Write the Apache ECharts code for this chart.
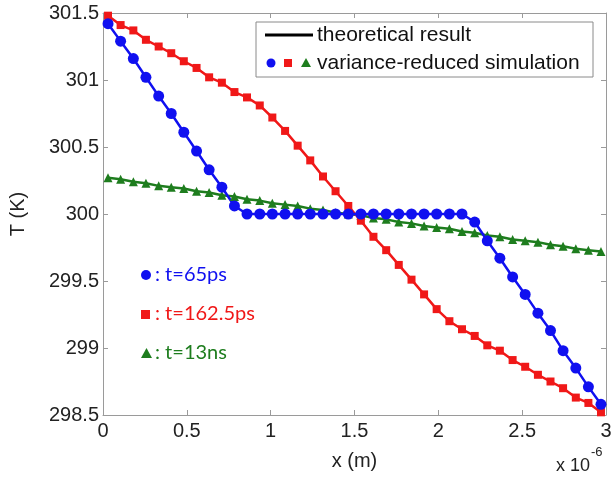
<!DOCTYPE html>
<html>
<head>
    <meta charset="utf-8">
    <title>T profile</title>
    <script src="https://cdn.jsdelivr.net/npm/echarts@6/dist/echarts.min.js"></script>
    <style>
        html, body { margin: 0; padding: 0; background: #fff; }
    </style>
</head>
<body>
    <div id="main" style="width: 615px;height:478px;"></div>
    <script type="text/javascript">
        // x positions (units of 1e-6 m)
        var xPos = [0.030, 0.105, 0.181, 0.256, 0.332, 0.407, 0.482, 0.558, 0.633, 0.709,
                    0.784, 0.859, 0.935, 1.010, 1.086, 1.161, 1.236, 1.312, 1.387, 1.463,
                    1.538, 1.613, 1.689, 1.764, 1.840, 1.915, 1.990, 2.066, 2.141, 2.217,
                    2.292, 2.367, 2.443, 2.518, 2.594, 2.669, 2.744, 2.820, 2.895, 2.970];

        // t = 65ps
        var t65ps = [301.42, 301.29, 301.16, 301.02, 300.88, 300.75, 300.61, 300.47, 300.33, 300.20,
                     300.06, 300.00, 300.00, 300.00, 300.00, 300.00, 300.00, 300.00, 300.00, 300.00,
                     300.00, 300.00, 300.00, 300.00, 300.00, 300.00, 300.00, 300.00, 300.00, 299.94,
                     299.80, 299.67, 299.53, 299.40, 299.26, 299.13, 298.98, 298.85, 298.71, 298.58];

        // t = 162.5ps
        var t162ps = [301.48, 301.41, 301.37, 301.30, 301.25, 301.20, 301.14, 301.09, 301.02, 300.98,
                      300.91, 300.87, 300.81, 300.72, 300.62, 300.51, 300.40, 300.28, 300.17, 300.06,
                      299.95, 299.83, 299.73, 299.62, 299.51, 299.40, 299.29, 299.20, 299.14, 299.09,
                      299.02, 298.98, 298.91, 298.86, 298.80, 298.75, 298.70, 298.63, 298.59, 298.52];

        // t = 13ns
        var t13ns = [300.27, 300.26, 300.24, 300.23, 300.21, 300.20, 300.19, 300.17, 300.16, 300.14,
                     300.13, 300.11, 300.10, 300.08, 300.07, 300.06, 300.04, 300.03, 300.01, 300.00,
                     299.99, 299.97, 299.96, 299.94, 299.93, 299.91, 299.90, 299.89, 299.87, 299.86,
                     299.84, 299.83, 299.81, 299.80, 299.79, 299.77, 299.76, 299.74, 299.73, 299.72];

        var xTicks = [0, 0.5, 1, 1.5, 2, 2.5, 3];
        var yTicks = [298.5, 299, 299.5, 300, 300.5, 301, 301.5];

        var BLUE = '#1010f0', RED = '#f01818', GREEN = '#1e7d1e';
        var AX = '#9a9a9a';
        var FONT = 'Liberation Sans, Arial, sans-serif';

        function pairs(ys) {
            return xPos.map(function (x, i) { return [x, ys[i]]; });
        }

        var myChart = echarts.init(document.getElementById('main'));

        var tickStyle = { show: true, inside: true, length: 5, lineStyle: { color: AX } };
        var lineAx = { show: true, onZero: false, lineStyle: { color: AX, width: 1 } };

        var option = {
            backgroundColor: '#fff',
            animation: false,
            grid: { left: 101, right: 9, top: 13, bottom: 63, containLabel: false },
            xAxis: [{
                type: 'value', min: xTicks[0], max: xTicks[xTicks.length - 1], interval: 0.5,
                position: 'bottom',
                name: 'x (m)', nameLocation: 'middle', nameGap: 36,
                nameTextStyle: { fontFamily: FONT, fontSize: 20, color: '#222' },
                axisLine: lineAx, axisTick: tickStyle, splitLine: { show: false },
                axisLabel: { fontFamily: FONT, fontSize: 20, color: '#222', margin: 6 }
            }, {
                type: 'value', min: xTicks[0], max: xTicks[xTicks.length - 1], interval: 0.5,
                position: 'top',
                axisLine: lineAx, axisTick: tickStyle, splitLine: { show: false },
                axisLabel: { show: false }
            }],
            yAxis: [{
                type: 'value', min: yTicks[0], max: yTicks[yTicks.length - 1], interval: 0.5,
                position: 'left',
                name: 'T (K)', nameLocation: 'middle', nameGap: 75, nameRotate: 90,
                nameTextStyle: { fontFamily: FONT, fontSize: 20, color: '#222' },
                axisLine: lineAx, axisTick: tickStyle, splitLine: { show: false },
                axisLabel: { fontFamily: FONT, fontSize: 20, color: '#222', margin: 4 }
            }, {
                type: 'value', min: yTicks[0], max: yTicks[yTicks.length - 1], interval: 0.5,
                position: 'right',
                axisLine: lineAx, axisTick: tickStyle, splitLine: { show: false },
                axisLabel: { show: false }
            }],
            series: [{
                name: 't=13ns', type: 'line', data: pairs(t13ns),
                symbol: 'triangle', symbolSize: 9,
                itemStyle: { color: GREEN }, lineStyle: { color: GREEN, width: 2.5 }
            }, {
                name: 't=162.5ps', type: 'line', data: pairs(t162ps),
                symbol: 'rect', symbolSize: 8,
                itemStyle: { color: RED }, lineStyle: { color: RED, width: 2.5 }
            }, {
                name: 't=65ps', type: 'line', data: pairs(t65ps),
                symbol: 'circle', symbolSize: 11,
                itemStyle: { color: BLUE }, lineStyle: { color: BLUE, width: 2.5 }
            }],
            graphic: [
                // legend box
                { type: 'rect', shape: { x: 256, y: 22, width: 337, height: 55 },
                  style: { fill: '#fff', stroke: '#8a8a8a', lineWidth: 1 }, z: 10 },
                { type: 'line', shape: { x1: 265, y1: 35, x2: 313, y2: 35 },
                  style: { stroke: '#000', lineWidth: 3 }, z: 11 },
                { type: 'text', x: 317, y: 35, z: 11,
                  style: { text: 'theoretical result', font: '21px ' + FONT, fill: '#111', verticalAlign: 'middle' } },
                { type: 'circle', shape: { cx: 271, cy: 63, r: 4.5 }, style: { fill: BLUE }, z: 11 },
                { type: 'rect', shape: { x: 284, y: 59, width: 8, height: 8 }, style: { fill: RED }, z: 11 },
                { type: 'polygon', shape: { points: [[306, 58], [301, 67], [311, 67]] }, style: { fill: GREEN }, z: 11 },
                { type: 'text', x: 317, y: 63, z: 11,
                  style: { text: 'variance-reduced simulation', font: '21px ' + FONT, fill: '#111', verticalAlign: 'middle' } },

                // time annotations
                { type: 'circle', shape: { cx: 146, cy: 275, r: 5 }, style: { fill: BLUE }, z: 11 },
                { type: 'text', x: 155, y: 275, z: 11,
                  style: { text: ': t=65ps', font: '20px Lato, sans-serif', fill: BLUE, verticalAlign: 'middle' } },
                { type: 'rect', shape: { x: 141, y: 310, width: 9, height: 9 }, style: { fill: RED }, z: 11 },
                { type: 'text', x: 155, y: 314, z: 11,
                  style: { text: ': t=162.5ps', font: '20px Lato, sans-serif', fill: RED, verticalAlign: 'middle' } },
                { type: 'polygon', shape: { points: [[146.5, 348], [141, 358], [152, 358]] }, style: { fill: GREEN }, z: 11 },
                { type: 'text', x: 155, y: 353, z: 11,
                  style: { text: ': t=13ns', font: '20px Lato, sans-serif', fill: GREEN, verticalAlign: 'middle' } },

                // axis multiplier
                { type: 'text', x: 556, y: 475, z: 11,
                  style: { text: 'x 10', font: '18px ' + FONT, fill: '#222', verticalAlign: 'bottom' } },
                { type: 'text', x: 591, y: 459, z: 11,
                  style: { text: '-6', font: '13px ' + FONT, fill: '#222', verticalAlign: 'bottom' } }
            ]
        };

        myChart.setOption(option);
    </script>
</body>
</html>
